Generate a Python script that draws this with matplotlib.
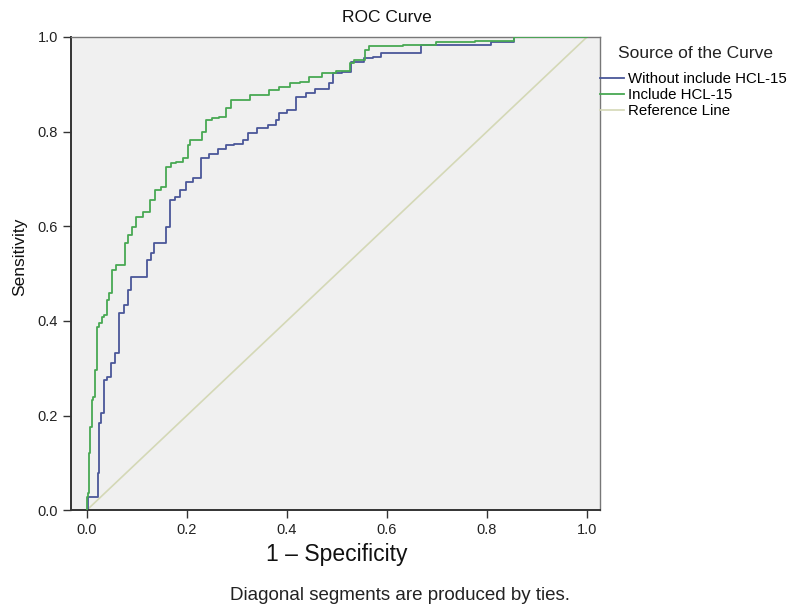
import matplotlib
matplotlib.use("Agg")
import matplotlib.pyplot as plt

plt.rcParams["font.family"] = ["Liberation Sans", "DejaVu Sans"]

# ROC points (1 - specificity, sensitivity)
fpr_without = [0.0, 0.004, 0.022, 0.022, 0.024, 0.024, 0.032, 0.038, 0.044, 0.052,
               0.062, 0.068, 0.080, 0.084, 0.094, 0.118, 0.124, 0.132, 0.138, 0.154,
               0.162, 0.172, 0.182, 0.192, 0.204, 0.222, 0.234, 0.253, 0.273, 0.283,
               0.307, 0.317, 0.327, 0.353, 0.373, 0.383, 0.387, 0.415, 0.423, 0.453,
               0.461, 0.481, 0.487, 0.497, 0.523, 0.533, 0.551, 0.557, 0.587, 0.591,
               0.663, 0.673, 0.806, 0.810, 0.852, 0.856, 1.0]
tpr_without = [0.0, 0.027, 0.027, 0.078, 0.078, 0.184, 0.205, 0.275, 0.281, 0.311,
               0.332, 0.416, 0.433, 0.465, 0.493, 0.493, 0.529, 0.543, 0.564, 0.564,
               0.598, 0.655, 0.662, 0.677, 0.693, 0.702, 0.744, 0.753, 0.763, 0.772,
               0.774, 0.782, 0.797, 0.808, 0.814, 0.825, 0.839, 0.846, 0.873, 0.882,
               0.890, 0.890, 0.903, 0.924, 0.926, 0.947, 0.947, 0.956, 0.958, 0.966,
               0.966, 0.983, 0.983, 0.989, 0.989, 1.0, 1.0]

fpr_with = [0.0, 0.0, 0.004, 0.004, 0.008, 0.012, 0.014, 0.018, 0.022, 0.028,
            0.032, 0.038, 0.042, 0.048, 0.054, 0.062, 0.074, 0.078, 0.088, 0.094,
            0.104, 0.122, 0.132, 0.142, 0.154, 0.164, 0.172, 0.184, 0.202, 0.204,
            0.208, 0.228, 0.234, 0.242, 0.257, 0.273, 0.283, 0.293, 0.321, 0.331,
            0.363, 0.367, 0.401, 0.411, 0.441, 0.447, 0.467, 0.473, 0.523, 0.531,
            0.537, 0.551, 0.563, 0.567, 0.697, 0.701, 0.852, 0.856, 1.0]
tpr_with = [0.0, 0.027, 0.036, 0.120, 0.175, 0.233, 0.239, 0.296, 0.387, 0.395,
            0.408, 0.412, 0.444, 0.459, 0.507, 0.518, 0.518, 0.564, 0.581, 0.598,
            0.619, 0.630, 0.655, 0.677, 0.683, 0.725, 0.734, 0.736, 0.744, 0.772,
            0.782, 0.782, 0.799, 0.825, 0.829, 0.831, 0.850, 0.867, 0.867, 0.877,
            0.877, 0.888, 0.894, 0.903, 0.905, 0.915, 0.915, 0.924, 0.928, 0.945,
            0.951, 0.951, 0.973, 0.981, 0.983, 0.989, 0.992, 1.0, 1.0]

ref_line = [0.0, 1.0]
ticks = [0.0, 0.2, 0.4, 0.6, 0.8, 1.0]
labels = ["Without include HCL-15", "Include HCL-15", "Reference Line"]

fig = plt.figure(figsize=(8.0, 6.06), dpi=100)
ax = fig.add_axes([0.089, 0.158, 0.661, 0.781])
ax.set_facecolor("#f0f0f0")

ref, = ax.plot(ref_line, ref_line, color="#d4d8b6", lw=1.2, zorder=1)
l_without, = ax.plot(fpr_without, tpr_without, color="#4a5799", lw=1.3,
                     drawstyle="steps-mid", zorder=2)
l_with, = ax.plot(fpr_with, tpr_with, color="#48a853", lw=1.3,
                  drawstyle="steps-mid", zorder=3)

ax.set_xlim(-0.031, 1.026)
ax.set_ylim(0, 1)
ax.set_xticks(ticks)
ax.set_yticks(ticks)
ax.set_xticklabels([f"{t:.1f}" for t in ticks])
ax.set_yticklabels([f"{t:.1f}" for t in ticks])
ax.tick_params(direction="out", length=6, width=1, colors="#333333",
               labelsize=10.5, labelcolor="#222222")
for side in ["left", "bottom"]:
    ax.spines[side].set_color("#333333")
    ax.spines[side].set_linewidth(1.4)
for side in ["top", "right"]:
    ax.spines[side].set_color("#777777")
    ax.spines[side].set_linewidth(1.0)

fig.text(387 / 800, 1 - 18 / 606, "ROC Curve", ha="center", va="center",
         fontsize=12.5, color="#111111")
ax.set_xlabel("1 \u2013 Specificity", fontsize=16.5, color="#111111")
ax.xaxis.set_label_coords(0.502, -0.07)
ax.set_ylabel("Sensitivity", fontsize=12.5, color="#111111")
ax.yaxis.set_label_coords(-0.084, 0.535)

leg = ax.legend([l_without, l_with, ref], labels, loc="upper left",
                bbox_to_anchor=(1.0, 0.925), frameon=False, fontsize=10.8,
                handlelength=1.6, handletextpad=0.25, labelspacing=0.12,
                borderpad=0, borderaxespad=0)
ax.text(1.034, 0.966, "Source of the Curve", transform=ax.transAxes,
        ha="left", va="center", fontsize=12.5, color="#222222")

fig.text(0.5, 1 - 596 / 606, "Diagonal segments are produced by ties.",
         ha="center", va="center", fontsize=13.5, color="#222222")

fig.savefig("out.png", dpi=100)
